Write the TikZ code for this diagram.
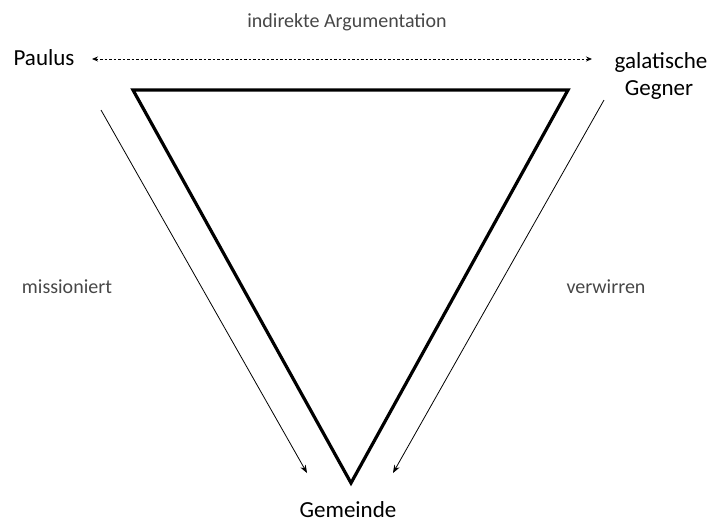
\documentclass[tikz,border=0pt]{standalone}
\usepackage{fontspec}
\setmainfont{Carlito}
\usetikzlibrary{arrows.meta}
\begin{document}
\begin{tikzpicture}[x=1pt,y=-1pt,
  big/.style={font=\fontsize{23}{27}\selectfont, text=black, inner sep=0pt, anchor=base},
  small/.style={font=\fontsize{20}{24}\selectfont, text=black!72, inner sep=0pt, anchor=base},
  tri/.style={line width=3.2pt, line join=miter},
  rel/.style={line width=0.8pt, -{Stealth[length=8pt,width=6pt]}},
  dotrel/.style={line width=0.8pt, dash pattern=on 2.5pt off 2pt, {Stealth[length=6pt,width=5pt]}-{Stealth[length=6pt,width=5pt]}}]
\useasboundingbox (0,0) rectangle (712,523);
\node[big] (paulus) at (44,65) {Paulus};
\node[big] (gegner1) at (661,68) {galatische};
\node[big] (gegner2) at (659,95) {Gegner};
\node[big] (gemeinde) at (348,517) {Gemeinde};
\node[small] (ia) at (347,27) {indirekte Argumentation};
\node[small] (miss) at (67,293) {missioniert};
\node[small] (verw) at (606,293) {verwirren};
\coordinate (t1) at (133,90);
\coordinate (t2) at (568,90);
\coordinate (t3) at (351,483);
\draw[tri] (t1) -- (t2) -- (t3) -- cycle;
\coordinate (da) at (92,59);
\coordinate (db) at (592,59);
\draw[dotrel] (da) -- (db);
\coordinate (la) at (101,110);
\coordinate (lb) at (307,473);
\draw[rel] (la) -- (lb);
\coordinate (ra) at (604,100);
\coordinate (rb) at (393,473);
\draw[rel] (ra) -- (rb);
\end{tikzpicture}
\end{document}
